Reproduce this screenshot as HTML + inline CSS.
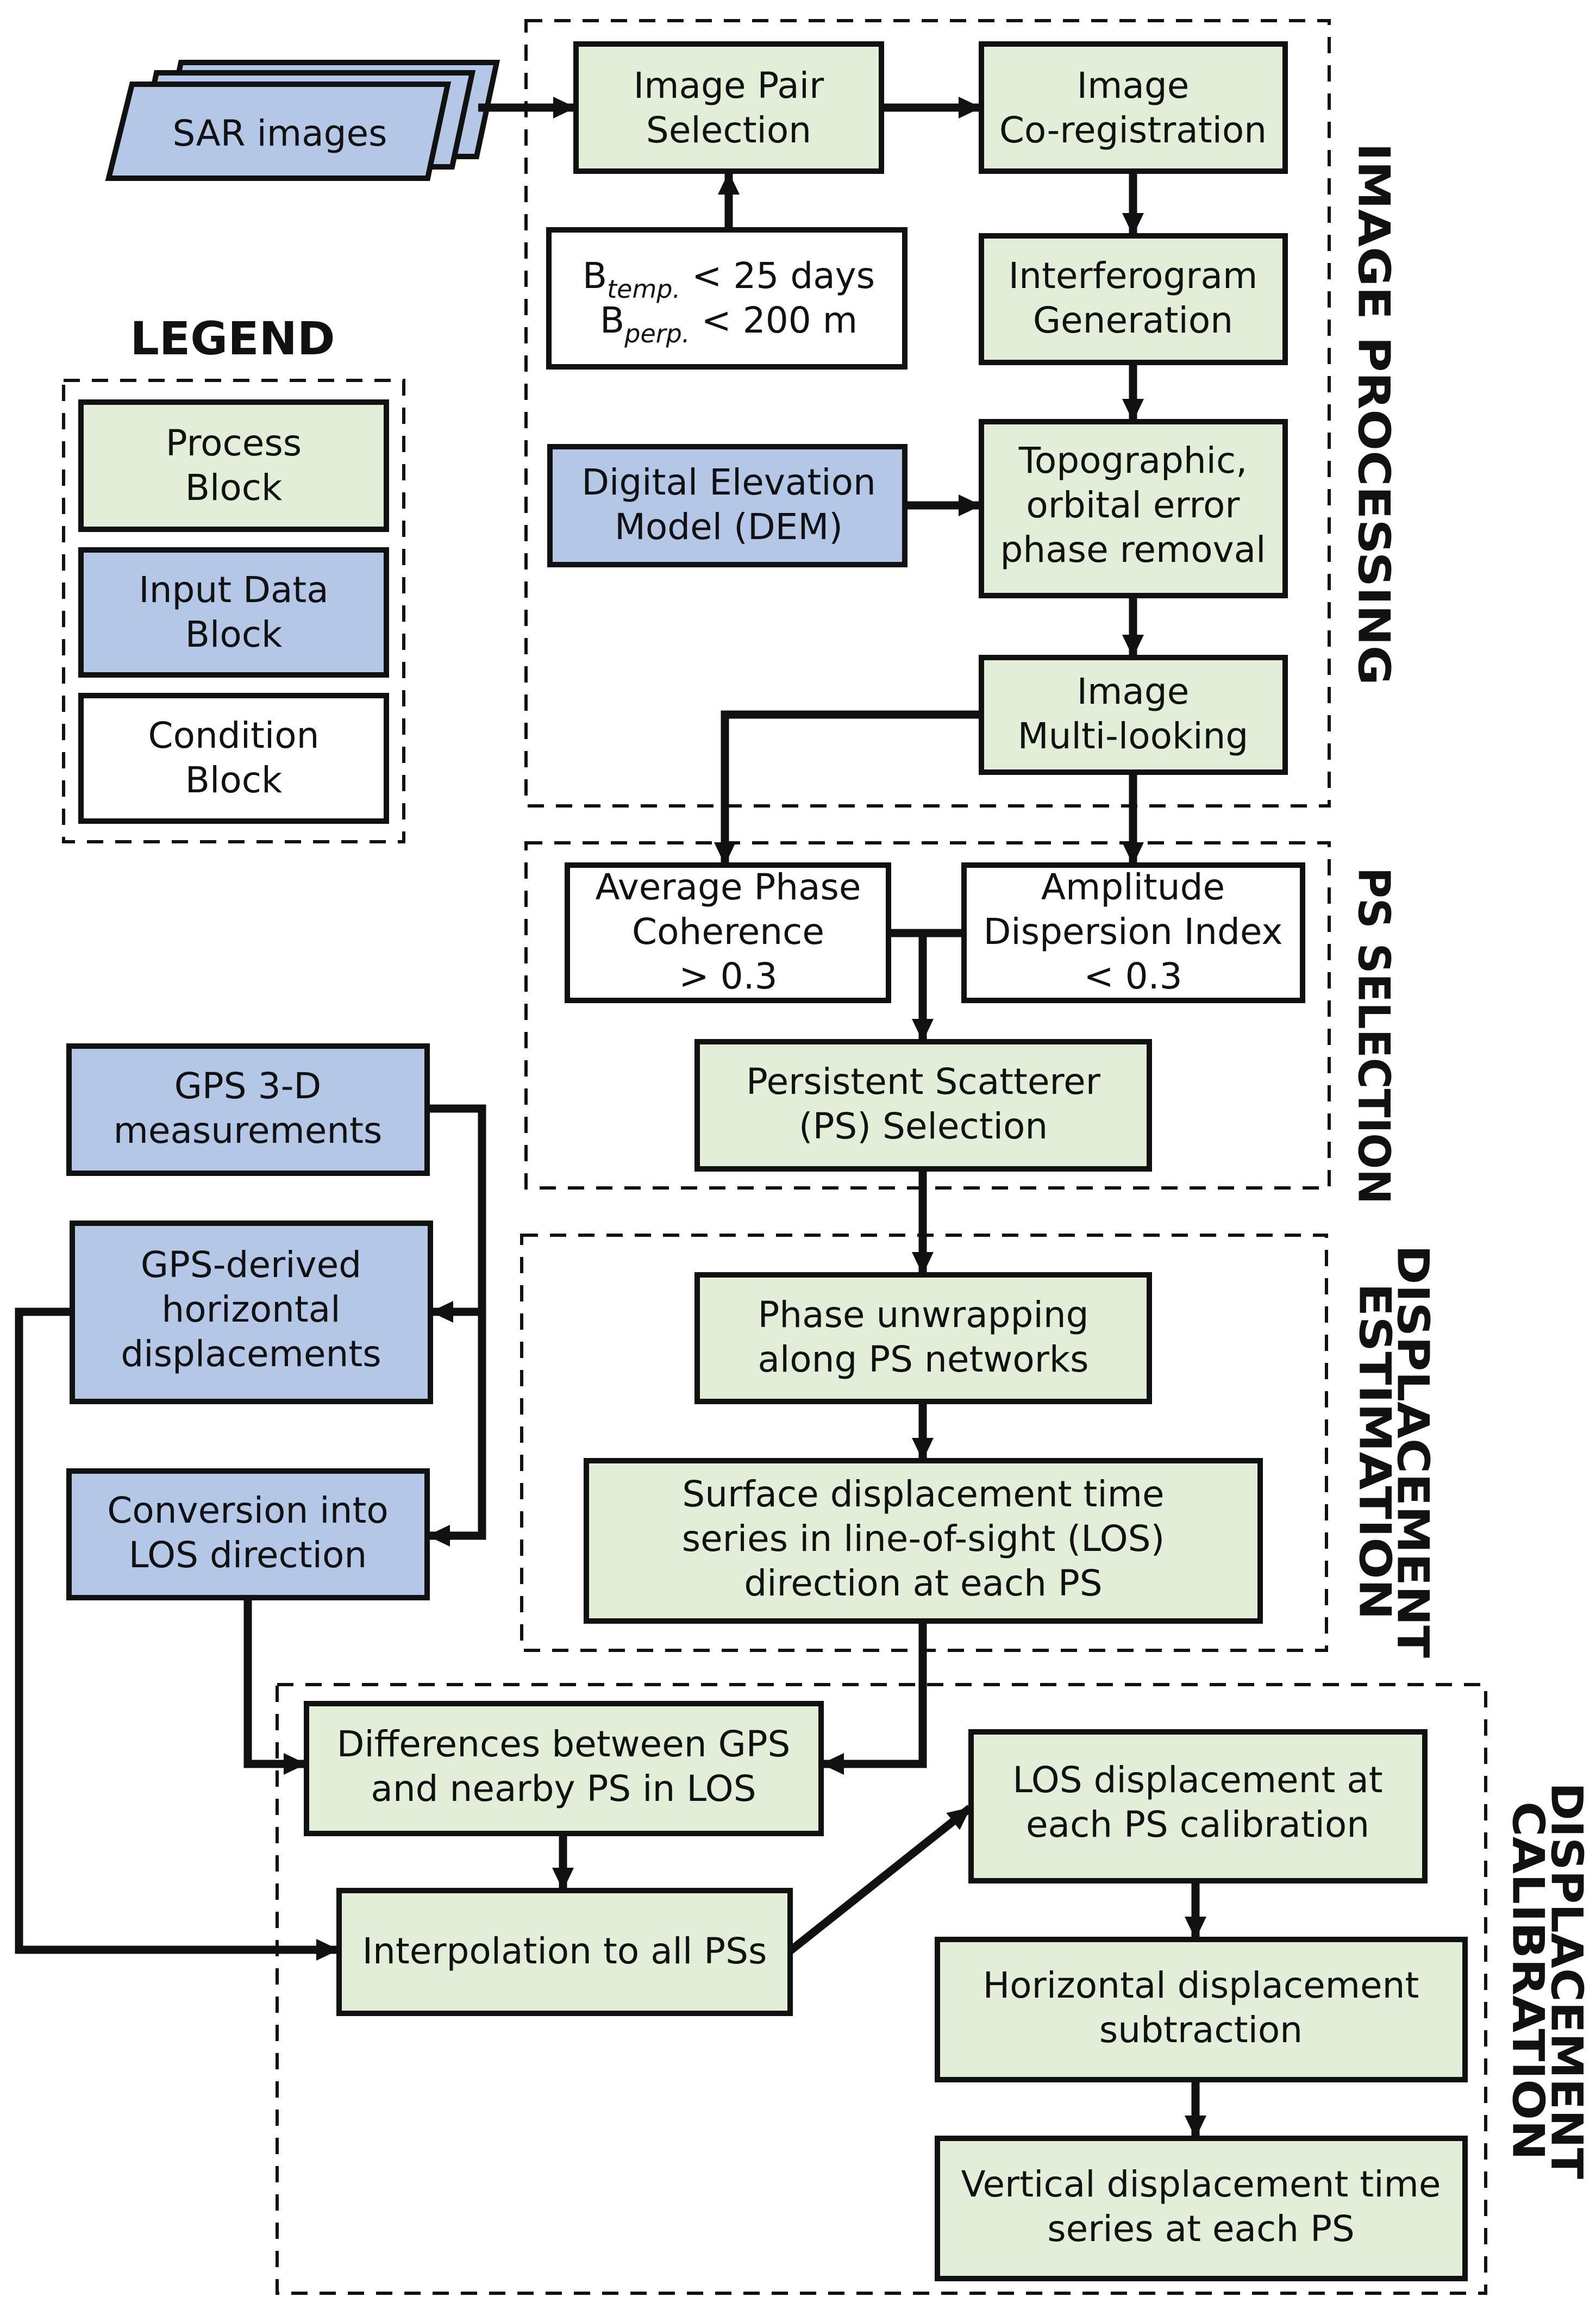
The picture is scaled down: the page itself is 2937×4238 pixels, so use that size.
<!DOCTYPE html>
<html><head><meta charset="utf-8">
<style>
html,body{margin:0;padding:0;background:#fff;}
svg{display:block;}
text{font-family:"DejaVu Sans","Liberation Sans",sans-serif;fill:#111;}
.t{font-size:66px;text-anchor:middle;}
.lab{font-size:80px;font-weight:bold;text-anchor:middle;dominant-baseline:central;}
.g{fill:#e2eed8;stroke:#111;stroke-width:10;}
.b{fill:#b4c7e7;stroke:#111;stroke-width:10;}
.w{fill:#fff;stroke:#111;stroke-width:10;}
.d{fill:none;stroke:#111;stroke-width:6;stroke-dasharray:30 22;}
.c{fill:none;stroke:#111;stroke-width:15;}
.ca{fill:none;stroke:#111;stroke-width:15;marker-end:url(#ah);}
</style></head>
<body>
<svg width="2937" height="4238" viewBox="0 0 2937 4238" xmlns="http://www.w3.org/2000/svg">
<defs>
<marker id="ah" markerUnits="userSpaceOnUse" markerWidth="50" markerHeight="50" refX="40" refY="20" orient="auto">
<path d="M0,0 L42,20 L0,40 z" fill="#111"/>
</marker>
</defs>

<!-- dashed groups -->
<rect class="d" x="968" y="38" width="1478" height="1445"/>
<rect class="d" x="968" y="1551" width="1478" height="635"/>
<rect class="d" x="960" y="2273" width="1481" height="764"/>
<rect class="d" x="510" y="3100" width="2224" height="1120"/>
<rect class="d" x="117" y="700" width="626" height="849"/>

<!-- SAR images -->
<polygon class="b" points="333,115 914,115 877,288 296,288"/>
<polygon class="b" points="288,134 869,134 832,307 251,307"/>
<polygon class="b" points="243,155 824,155 787,328 200,328"/>
<text class="t" x="515" y="268">SAR images</text>

<!-- Image processing boxes -->
<rect class="g" x="1060" y="81" width="562" height="234"/>
<text class="t" x="1341" y="180">Image Pair</text><text class="t" x="1341" y="262">Selection</text>
<rect class="g" x="1806" y="81" width="559" height="234"/>
<text class="t" x="2085" y="180">Image</text><text class="t" x="2085" y="262">Co-registration</text>
<rect class="w" x="1010" y="423" width="655" height="252"/>
<text class="t" x="1341" y="530">B<tspan font-style="italic" font-size="46" dy="18">temp.</tspan><tspan dy="-18"> &lt; 25 days</tspan></text>
<text class="t" x="1341" y="612">B<tspan font-style="italic" font-size="46" dy="18">perp.</tspan><tspan dy="-18"> &lt; 200 m</tspan></text>
<rect class="g" x="1806" y="434" width="559" height="233"/>
<text class="t" x="2085" y="530">Interferogram</text><text class="t" x="2085" y="612">Generation</text>
<rect class="b" x="1012" y="822" width="653" height="217"/>
<text class="t" x="1341" y="910">Digital Elevation</text><text class="t" x="1341" y="992">Model (DEM)</text>
<rect class="g" x="1806" y="776" width="559" height="320"/>
<text class="t" x="2085" y="870">Topographic,</text><text class="t" x="2085" y="952">orbital error</text><text class="t" x="2085" y="1034">phase removal</text>
<rect class="g" x="1806" y="1210" width="559" height="211"/>
<text class="t" x="2085" y="1295">Image</text><text class="t" x="2085" y="1377">Multi-looking</text>

<!-- Legend -->
<text x="428" y="652" style="font-size:84px;font-weight:bold;text-anchor:middle;">LEGEND</text>
<rect class="g" x="149" y="740" width="562" height="234"/>
<text class="t" x="430" y="838">Process</text><text class="t" x="430" y="920">Block</text>
<rect class="b" x="149" y="1012" width="562" height="230"/>
<text class="t" x="430" y="1108">Input Data</text><text class="t" x="430" y="1190">Block</text>
<rect class="w" x="149" y="1280" width="562" height="231"/>
<text class="t" x="430" y="1376">Condition</text><text class="t" x="430" y="1458">Block</text>

<!-- PS selection -->
<rect class="w" x="1044" y="1592" width="591" height="249"/>
<text class="t" x="1340" y="1655">Average Phase</text><text class="t" x="1340" y="1737">Coherence</text><text class="t" x="1340" y="1819">&gt; 0.3</text>
<rect class="w" x="1774" y="1592" width="623" height="249"/>
<text class="t" x="2085" y="1655">Amplitude</text><text class="t" x="2085" y="1737">Dispersion Index</text><text class="t" x="2085" y="1819">&lt; 0.3</text>
<rect class="g" x="1283" y="1917" width="832" height="234"/>
<text class="t" x="1699" y="2013">Persistent Scatterer</text><text class="t" x="1699" y="2095">(PS) Selection</text>

<!-- Displacement estimation -->
<rect class="g" x="1283" y="2346" width="832" height="233"/>
<text class="t" x="1699" y="2442">Phase unwrapping</text><text class="t" x="1699" y="2524">along PS networks</text>
<rect class="g" x="1079" y="2688" width="1240" height="295"/>
<text class="t" x="1699" y="2772">Surface displacement time</text><text class="t" x="1699" y="2854">series in line-of-sight (LOS)</text><text class="t" x="1699" y="2936">direction at each PS</text>

<!-- GPS -->
<rect class="b" x="127" y="1925" width="659" height="234"/>
<text class="t" x="456" y="2021">GPS 3-D</text><text class="t" x="456" y="2103">measurements</text>
<rect class="b" x="133" y="2251" width="659" height="328"/>
<text class="t" x="462" y="2350">GPS-derived</text><text class="t" x="462" y="2432">horizontal</text><text class="t" x="462" y="2514">displacements</text>
<rect class="b" x="127" y="2707" width="659" height="233"/>
<text class="t" x="456" y="2802">Conversion into</text><text class="t" x="456" y="2884">LOS direction</text>

<!-- Calibration -->
<rect class="g" x="564" y="3135" width="947" height="239"/>
<text class="t" x="1037" y="3232">Differences between GPS</text><text class="t" x="1037" y="3314">and nearby PS in LOS</text>
<rect class="g" x="624" y="3479" width="830" height="226"/>
<text class="t" x="1039" y="3613">Interpolation to all PSs</text>
<rect class="g" x="1787" y="3187" width="835" height="274"/>
<text class="t" x="2204" y="3298">LOS displacement at</text><text class="t" x="2204" y="3380">each PS calibration</text>
<rect class="g" x="1725" y="3569" width="971" height="258"/>
<text class="t" x="2210" y="3676">Horizontal displacement</text><text class="t" x="2210" y="3758">subtraction</text>
<rect class="g" x="1725" y="3935" width="971" height="258"/>
<text class="t" x="2210" y="4042">Vertical displacement time</text><text class="t" x="2210" y="4124">series at each PS</text>

<!-- connectors -->
<line class="ca" x1="880" y1="198" x2="1058" y2="198"/>
<line class="ca" x1="1622" y1="198" x2="1804" y2="198"/>
<line class="ca" x1="1341" y1="418" x2="1341" y2="318"/>
<line class="ca" x1="2085" y1="318" x2="2085" y2="432"/>
<line class="ca" x1="2085" y1="670" x2="2085" y2="774"/>
<line class="ca" x1="1665" y1="930" x2="1804" y2="930"/>
<line class="ca" x1="2085" y1="1099" x2="2085" y2="1208"/>
<polyline class="ca" points="1806,1315 1334,1315 1334,1590"/>
<line class="ca" x1="2085" y1="1424" x2="2085" y2="1590"/>
<line class="c" x1="1635" y1="1717" x2="1774" y2="1717"/>
<line class="ca" x1="1698" y1="1717" x2="1698" y2="1915"/>
<line class="ca" x1="1698" y1="2154" x2="1698" y2="2344"/>
<line class="ca" x1="1698" y1="2582" x2="1698" y2="2686"/>
<polyline class="ca" points="1698,2986 1698,3246 1513,3246"/>
<polyline class="ca" points="786,2040 887,2040 887,2826 788,2826"/>
<line class="ca" x1="887" y1="2414" x2="794" y2="2414"/>
<polyline class="ca" points="133,2414 35,2414 35,3588 622,3588"/>
<polyline class="ca" points="456,2940 456,3246 562,3246"/>
<line class="ca" x1="1036" y1="3377" x2="1036" y2="3477"/>
<line class="ca" x1="1454" y1="3590" x2="1785" y2="3327"/>
<line class="ca" x1="2200" y1="3464" x2="2200" y2="3567"/>
<line class="ca" x1="2200" y1="3830" x2="2200" y2="3933"/>

<!-- rotated labels -->
<text class="lab" transform="translate(2528,762) rotate(90)" textLength="998" lengthAdjust="spacingAndGlyphs">IMAGE PROCESSING</text>
<text class="lab" transform="translate(2528,1906) rotate(90)" textLength="620" lengthAdjust="spacingAndGlyphs">PS SELECTION</text>
<text class="lab" transform="translate(2600,2671) rotate(90)" textLength="760" lengthAdjust="spacingAndGlyphs">DISPLACEMENT</text>
<text class="lab" transform="translate(2530,2671) rotate(90)" textLength="620" lengthAdjust="spacingAndGlyphs">ESTIMATION</text>
<text class="lab" transform="translate(2883,3645) rotate(90)" textLength="730" lengthAdjust="spacingAndGlyphs">DISPLACEMENT</text>
<text class="lab" transform="translate(2812,3645) rotate(90)" textLength="660" lengthAdjust="spacingAndGlyphs">CALIBRATION</text>
</svg>
</body></html>
